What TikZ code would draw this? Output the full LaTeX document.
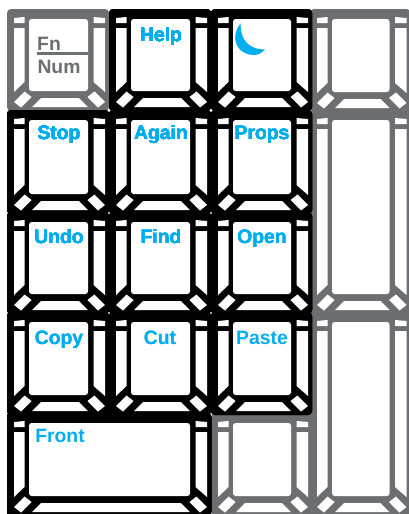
\documentclass[tikz,border=0pt]{standalone}
\usepackage{fontspec}
\setmainfont{Liberation Sans}
\definecolor{keyblue}{RGB}{0,174,239}
\definecolor{keygray}{RGB}{109,110,113}
\tikzset{
  keybody/.style={fill=#1, rounded corners=3pt},
  keycut/.style={fill=white},
  keyface/.style={fill=white, rounded corners=2pt},
  keylabel/.style={anchor=base, inner sep=0pt, text=keyblue,
                   font=\fontsize{14.5}{14.5}\selectfont\bfseries},
  graylabel/.style={keylabel, text=keygray},
}
% colour, left, top, right, bottom
\newcommand{\keycap}[5]{
  \fill[keybody=#1] (#2-1,#3-1) rectangle (#4+1,#5+1);
  \fill[keyface] (#2+21,#3+9) rectangle (#4-20,#5-19);
  \fill[keycut] (#2+6,#3+18) -- (#2+16.5,#3+18) -- (#2+16.5,#5-28) -- (#2+6,#5-18) -- cycle;
  \fill[keycut] (#4-3,#3+18) -- (#4-14.5,#3+18) -- (#4-14.5,#5-28) -- (#4-3,#5-18) -- cycle;
  \fill[keycut] (#2+6,#3+8) -- (#2+16.5,#3+7) -- (#2+16.5,#3+13) -- (#2+6,#3+13) -- cycle;
  \fill[keycut] (#4-3,#3+8) -- (#4-14.5,#3+7) -- (#4-14.5,#3+13) -- (#4-3,#3+13) -- cycle;
  \fill[keycut] (#2+24,#5-3) -- (#2+33,#5-12) -- (#4-29,#5-12) -- (#4-20,#5-3) -- cycle;
  \fill[keycut] (#2+6,#5-8) -- (#2+16.5,#5-18.5) -- (#2+23.5,#5-13) -- (#2+13,#5-2.5) -- cycle;
  \fill[keycut] (#4-3,#5-8) -- (#4-13.5,#5-18.5) -- (#4-20.5,#5-13) -- (#4-10,#5-2.5) -- cycle;
}

\begin{document}
\begin{tikzpicture}[x=0.75pt, y=-0.75pt]
  \useasboundingbox (0,0) rectangle (409,514);
  \clip (0,0) rectangle (409,514);
  % grey keys go first, the black ones sit over their edges
  \foreach \l/\t/\r/\b in {8/10/108/110, 311/10/409.5/111, 311/111/409.5/313, 311/313/409.5/515, 212/414/311/515}
    \keycap{keygray}{\l}{\t}{\r}{\b}
  \foreach \l/\r in {110/210, 212/311}
    \keycap{black}{\l}{10}{\r}{110}
  \foreach \t/\b in {111/213, 213/313, 313/414}
    \foreach \l/\r in {8/108, 110/210, 212/311}
      \keycap{black}{\l}{\t}{\r}{\b}
  \keycap{black}{8}{414}{210}{515}
  \foreach \x/\y/\name in {161/41/Help, 59/139/Stop, 161/139/Again, 262/139/Props,
                           59/243/Undo, 161/243/Find, 262/243/Open,
                           59/344/Copy, 160/344/Cut, 262/344/Paste, 60/442/Front}
    \node[keylabel] (\name) at (\x,\y) {\name};
  \node[graylabel] (fn) at (49,50) {Fn};
  \node[graylabel] (num) at (59,73) {Num};
  \draw[keygray, line width=2.4pt] (37,53.5) -- (88,53.5);
  \fill[keyblue] (240.7,23.3) .. controls (232,33) and (232,52) .. (252,55)
    .. controls (258,55.5) and (262,53) .. (265,49.3)
    .. controls (255,50) and (240,45) .. (240.7,23.3) -- cycle;
\end{tikzpicture}
\end{document}
